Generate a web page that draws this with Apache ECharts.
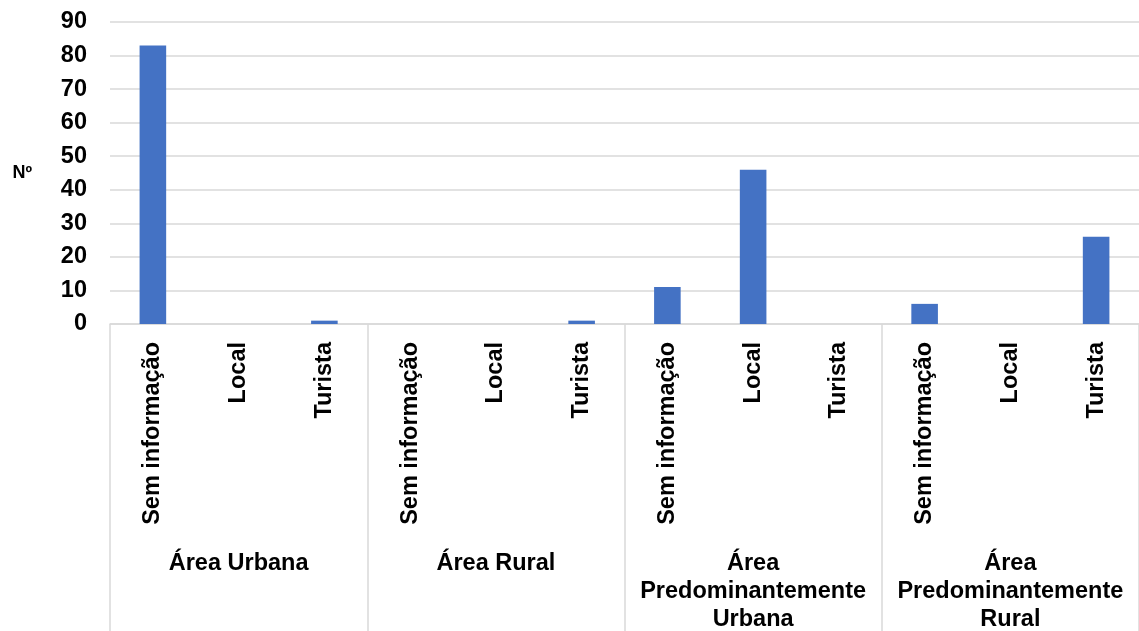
<!DOCTYPE html>
<html>
<head>
<meta charset="utf-8">
<script src="https://cdn.jsdelivr.net/npm/echarts@6/dist/echarts.min.js"></script>
<style>
  html, body { margin: 0; padding: 0; background: #ffffff; }
  #chart { width: 1139px; height: 631px; }
</style>
</head>
<body>
<div id="chart"></div>
<script>
// Sub-categories (one bar each), grouped by area type
const categories = [
  'Sem informação', 'Local', 'Turista',
  'Sem informação', 'Local', 'Turista',
  'Sem informação', 'Local', 'Turista',
  'Sem informação', 'Local', 'Turista'
];
const groups = [
  'Área Urbana',
  'Área Rural',
  'Área\nPredominantemente\nUrbana',
  'Área\nPredominantemente\nRural'
];
const values = [83, 0, 1, 0, 0, 1, 11, 46, 0, 6, 0, 26];
const yTicks = { min: 0, max: 90, interval: 10 };
const yName = 'Nº';

const FONT = '"Liberation Sans", Arial, sans-serif';
const GRID_COLOR = '#d9d9d9';
const LABEL_SIZE = 23.5;

const chart = echarts.init(document.getElementById('chart'), null, { renderer: 'canvas' });

chart.setOption({
  animation: false,
  backgroundColor: '#ffffff',
  grid: {
    left: 110, right: 0, top: 22, bottom: 307,
    containLabel: false,
    outerBoundsMode: 'none'
  },
  xAxis: [
    {
      type: 'category',
      data: categories,
      axisLine: { show: true, lineStyle: { color: GRID_COLOR, width: 1.5 } },
      axisTick: { show: false },
      axisLabel: {
        interval: 0,
        rotate: 90,
        margin: 18,
        color: '#000000',
        fontFamily: FONT,
        fontWeight: 'bold',
        fontSize: LABEL_SIZE
      }
    },
    {
      // group row beneath the sub-category labels, with separators between groups
      type: 'category',
      data: groups,
      position: 'bottom',
      axisLine: { show: false },
      axisTick: { show: true, length: 310, lineStyle: { color: GRID_COLOR, width: 1.5 } },
      axisLabel: {
        interval: 0,
        margin: 226,
        color: '#000000',
        fontFamily: FONT,
        fontWeight: 'bold',
        fontSize: LABEL_SIZE,
        lineHeight: 28,
        align: 'center'
      },
      splitLine: { show: false }
    }
  ],
  yAxis: {
    type: 'value',
    min: yTicks.min,
    max: yTicks.max,
    interval: yTicks.interval,
    name: yName,
    nameLocation: 'middle',
    nameRotate: 0,
    nameGap: 78,
    nameTextStyle: { color: '#000000', fontFamily: FONT, fontWeight: 'bold', fontSize: 18 },
    axisLine: { show: false },
    axisTick: { show: false },
    axisLabel: {
      margin: 23,
      color: '#000000',
      fontFamily: FONT,
      fontWeight: 'bold',
      fontSize: LABEL_SIZE,
      padding: [2, 0, 0, 0]
    },
    splitLine: { lineStyle: { color: GRID_COLOR, width: 1.5 } }
  },
  series: [
    {
      type: 'bar',
      xAxisIndex: 0,
      data: values,
      barWidth: '31%',
      itemStyle: { color: '#4472c4' }
    }
  ]
});
</script>
</body>
</html>
